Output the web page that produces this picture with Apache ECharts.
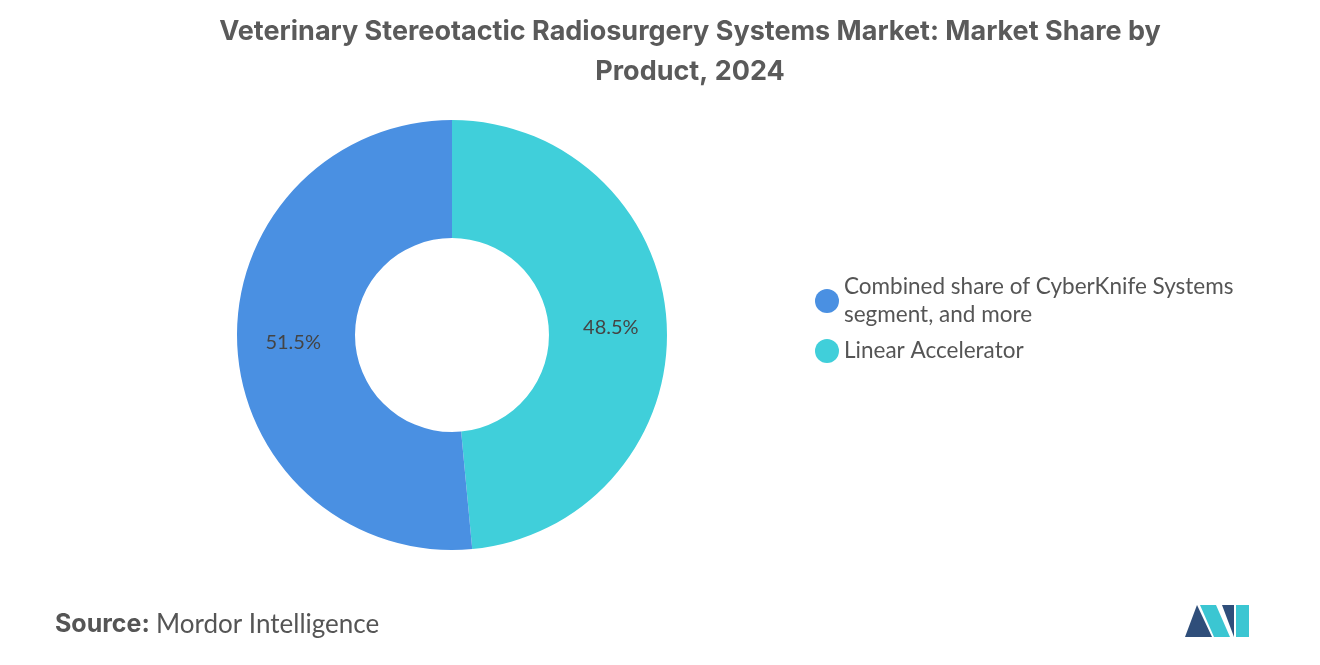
<!DOCTYPE html>
<html>
<head>
<meta charset="utf-8">
<script src="https://cdn.jsdelivr.net/npm/echarts@6/dist/echarts.min.js"></script>
<style>html,body{margin:0;padding:0;background:#fff}#main{width:1320px;height:665px}</style>
</head>
<body>
<div id="main"></div>
<script>
var names = ['Linear Accelerator', 'Combined share of CyberKnife Systems\nsegment, and more'];
var values = [48.5, 51.5];
var colors = ['#40CFDA', '#4A90E2'];
var legendOrder = [names[1], names[0]];

var myChart = echarts.init(document.getElementById('main'));
var option = {
	legend: {
		orient: 'vertical',
		left: 810,
		top: 268,
		itemWidth: 24,
		itemHeight: 24,
		itemGap: 8,
		icon: 'circle',
		data: legendOrder,
		textStyle: {fontFamily: 'Lato', fontSize: 22.5, color: '#555', lineHeight: 28}
	},
	graphic: [
		{type: 'text', x: 690, y: 12, style: {text: 'Veterinary Stereotactic Radiosurgery Systems Market: Market Share by\nProduct, 2024', font: 'bold 27px Inter', fill: '#5a5a5a', align: 'center', lineHeight: 40}},
		{type: 'text', left: 55, top: 612, style: {text: 'Source:', font: 'bold 25px Inter', fill: '#555'}},
		{type: 'text', left: 156, top: 612, style: {text: 'Mordor Intelligence', font: '26px Lato', fill: '#555'}},
		{type: 'polygon', shape: {points: [[1185,637],[1197,605],[1212,637]]}, style: {fill: '#2F4E7A'}},
		{type: 'polygon', shape: {points: [[1200,605],[1216,605],[1230,637],[1214,637]]}, style: {fill: '#3BC6D2'}},
		{type: 'polygon', shape: {points: [[1222,605],[1234,605],[1234,637]]}, style: {fill: '#2F4E7A'}},
		{type: 'polygon', shape: {points: [[1236,605],[1249,605],[1249,637],[1236,637]]}, style: {fill: '#3BC6D2'}}
	],
	series: [{
		type: 'pie',
		center: [452, 335],
		radius: [97, 215],
		startAngle: 90,
		color: colors,
		label: {position: 'inside', formatter: '{c}%', fontFamily: 'Lato', fontSize: 20, color: '#444'},
		labelLine: {show: false},
		emphasis: {disabled: true},
		data: [
			{value: values[0], name: names[0]},
			{value: values[1], name: names[1]}
		]
	}]
};
myChart.setOption(option);
</script>
</body>
</html>
